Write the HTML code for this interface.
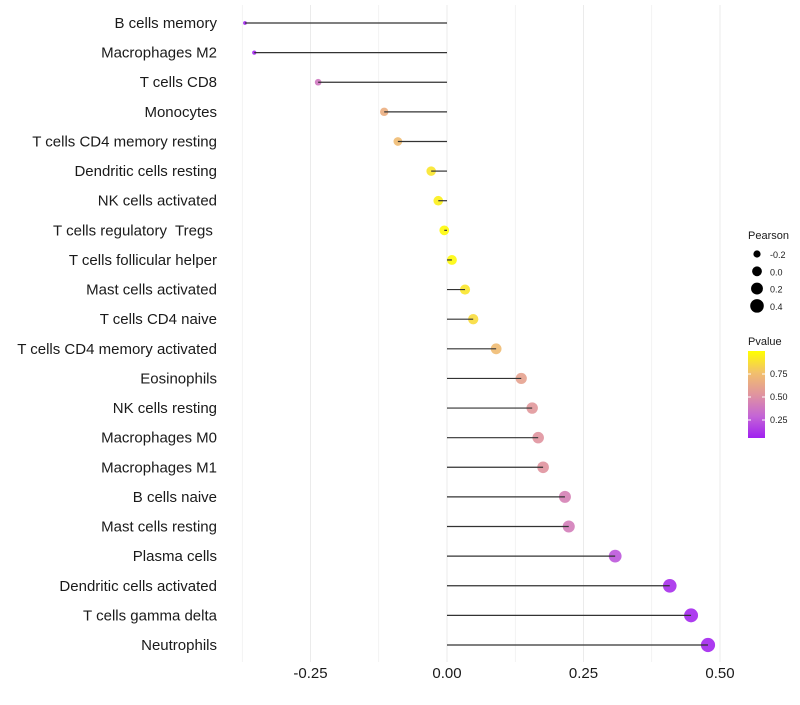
<!DOCTYPE html>
<html><head><meta charset="utf-8"><style>
body{margin:0;background:#fff;font-family:"Liberation Sans",sans-serif}
text{white-space:pre}
</style></head><body>
<svg id="c" width="800" height="700" xmlns="http://www.w3.org/2000/svg" font-family="Liberation Sans, sans-serif">
<defs><linearGradient id="pg" x1="0" y1="1" x2="0" y2="0">
<stop offset="0" stop-color="#a020f0"/><stop offset="0.25" stop-color="#c465d6"/><stop offset="0.5" stop-color="#e0949f"/><stop offset="0.75" stop-color="#f2c06c"/><stop offset="1" stop-color="#ffff00"/></linearGradient></defs>
<g id="grid"></g><g id="marks"></g><g id="labels"></g><g id="legend"></g>
</svg>
<script>
const cells=["B cells memory","Macrophages M2","T cells CD8","Monocytes","T cells CD4 memory resting","Dendritic cells resting","NK cells activated","T cells regulatory  Tregs ","T cells follicular helper","Mast cells activated","T cells CD4 naive","T cells CD4 memory activated","Eosinophils","NK cells resting","Macrophages M0","Macrophages M1","B cells naive","Mast cells resting","Plasma cells","Dendritic cells activated","T cells gamma delta","Neutrophils"];
const pearson=[-0.37,-0.353,-0.236,-0.115,-0.09,-0.029,-0.016,-0.005,0.009,0.033,0.048,0.09,0.136,0.156,0.167,0.176,0.216,0.223,0.308,0.408,0.447,0.478];
const pvalue=[0.01,0.02,0.35,0.65,0.72,0.9,0.94,0.98,0.98,0.9,0.86,0.72,0.58,0.52,0.5,0.5,0.4,0.38,0.2,0.05,0.03,0.02];
const xTicks=[-0.25,0,0.25,0.5];
const xTickLabels=["-0.25","0.00","0.25","0.50"];
const sizeLegend=[-0.2,0,0.2,0.4];
const sizeLegendLabels=["-0.2","0.0","0.2","0.4"];
const pTicks=[0.25,0.5,0.75];
const pTickLabels=["0.25","0.50","0.75"];
const NS="http://www.w3.org/2000/svg";
const x=v=>447+v*546;
const y=i=>23+i*(622/21);
const r=v=>Math.sqrt(Math.max(2,24+55.1*v));
const stops=[[0,[160,32,240]],[0.25,[196,101,214]],[0.5,[224,148,159]],[0.75,[242,192,108]],[1,[255,255,0]]];
function col(p){for(let k=0;k<stops.length-1;k++){const[a,ca]=stops[k],[b,cb]=stops[k+1];if(p<=b){const t=(p-a)/(b-a);return"rgb("+ca.map((c,j)=>Math.round(c+(cb[j]-c)*t)).join(",")+")";}}return"rgb(255,255,0)";}
function mk(tag,at,parent){const e=document.createElementNS(NS,tag);for(const k in at)e.setAttribute(k,at[k]);document.getElementById(parent).appendChild(e);return e;}
for(let v=-0.375;v<=0.5001;v+=0.125){const g=mk("line",{x1:x(v),x2:x(v),y1:5,y2:662,stroke:"#ebebeb","stroke-width":Math.abs(v*8%2)<0.01?1:0.6},"grid");

}
cells.forEach((c,i)=>{
const pt=mk("circle",{cx:x(pearson[i]),cy:y(i),r:r(pearson[i]),fill:col(pvalue[i]),opacity:0.9},"marks");


const ln=mk("line",{x1:x(0),x2:x(pearson[i]),y1:y(i),y2:y(i),stroke:"#333","stroke-width":1.2},"marks");


const t=mk("text",{x:217,y:y(i)+5,"text-anchor":"end","font-size":15,fill:"#1a1a1a"},"labels");t.textContent=c;


});
xTicks.forEach((v,i)=>{const t=mk("text",{x:x(v),y:678,"text-anchor":"middle","font-size":15,fill:"#1a1a1a"},"labels");t.textContent=xTickLabels[i];

});
let t=mk("text",{x:748,y:239,"font-size":11,fill:"#1a1a1a"},"legend");t.textContent="Pearson";


sizeLegend.forEach((v,i)=>{const c=mk("circle",{cx:757,cy:254+i*17.3,r:r(v),fill:"#000"},"legend");


const l=mk("text",{x:770,y:258+i*17.3,"font-size":9,fill:"#1a1a1a"},"legend");l.textContent=sizeLegendLabels[i];

});
t=mk("text",{x:748,y:345,"font-size":11,fill:"#1a1a1a"},"legend");t.textContent="Pvalue";


const pb=p=>443-p*92;
const bar=mk("rect",{x:748,y:351,width:17,height:87,fill:"url(#pg)"},"legend");


pTicks.forEach((p,i)=>{mk("line",{x1:748,x2:751,y1:pb(p),y2:pb(p),stroke:"#fff"},"legend");mk("line",{x1:762,x2:765,y1:pb(p),y2:pb(p),stroke:"#fff"},"legend");
const l=mk("text",{x:770,y:pb(p)+3,"font-size":9,fill:"#1a1a1a"},"legend");l.textContent=pTickLabels[i];

});
</script>
</body></html>
